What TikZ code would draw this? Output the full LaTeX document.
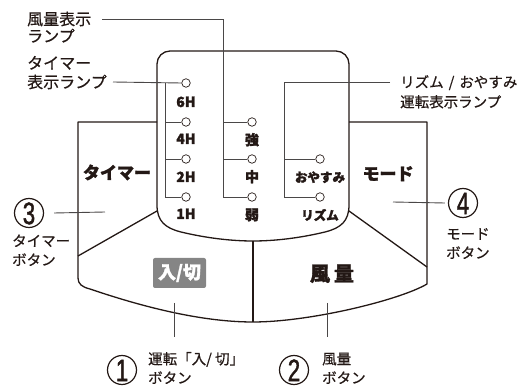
\documentclass[tikz,border=0pt]{standalone}
\usepackage{fontspec}
\setmainfont{Noto Sans CJK JP}[FakeBold=0.6,BoldFeatures={FakeBold=1.6}]
\newfontfamily\digitfont{Liberation Sans}[FakeBold=1.6]
\definecolor{ink}{HTML}{231815}
\definecolor{lead}{HTML}{4A4747}
\definecolor{badge}{HTML}{858585}
\begin{document}
\begin{tikzpicture}[x=1pt,y=-1pt,
  outline/.style={draw=ink,line width=1.3pt,line join=round},
  leader/.style={draw=lead,line width=0.9pt},
  lamp/.style={circle,draw=ink,line width=0.7pt,minimum size=8.5pt,inner sep=0pt},
  note/.style={anchor=base west,inner sep=0pt,text=ink,font=\fontsize{16}{18}\selectfont},
  snote/.style={anchor=base west,inner sep=0pt,text=ink,font=\fontsize{14.5}{17}\selectfont},
  plab/.style={anchor=base,inner sep=0pt,text=ink,font=\fontsize{14}{16}\selectfont\bfseries},
  blab/.style={anchor=base,inner sep=0pt,text=ink,font=\fontsize{17}{20}\selectfont\bfseries},
  num/.style={circle,draw=ink,line width=1.2pt,minimum size=29pt,inner sep=0pt},
  digit/.style={anchor=base,inner sep=0pt,text=ink,font=\digitfont\fontsize{31}{31}\selectfont}
]
\useasboundingbox (0,0) rectangle (531,387);

% ---------- buttons and panel ----------
\draw[outline] (157,122) -- (78,122) -- (78,278)
  .. controls (78,284) and (82,287) .. (90,289)
  .. controls (140,306) and (200,322) .. (253,322);
\draw[outline] (349,122) -- (427,122) -- (427,284)
  .. controls (400,300) and (310,322) .. (253,322);
\draw[outline] (78,256) -- (157,211);
\draw[outline] (349,211) -- (427,267);
\draw[outline] (253,241) -- (253,322);
\draw[outline] (157,205) [rounded corners=13pt] -- (157,51) -- (349,51) [sharp corners] -- (349,205)
  .. controls (349,221) and (341,228) .. (325,232)
  .. controls (300,238) and (275,241) .. (253,241)
  .. controls (231,241) and (206,238) .. (181,232)
  .. controls (165,228) and (157,221) .. (157,205);

% ---------- lamps ----------
\node[lamp] (t6) at (186,83) {};
\node[lamp] (t4) at (186,122) {};
\node[lamp] (t2) at (186,159) {};
\node[lamp] (t1) at (186,197) {};
\node[lamp] (ws) at (252,122) {};
\node[lamp] (wm) at (252,159) {};
\node[lamp] (ww) at (252,197) {};
\node[lamp] (ro) at (320,159) {};
\node[lamp] (rr) at (320,197) {};

\node[plab] (l6) at (186,107) {6H};
\node[plab] (l4) at (186,144) {4H};
\node[plab] (l2) at (186,182) {2H};
\node[plab] (l1) at (186,219) {1H};
\node[plab] (lws) at (252,145) {強};
\node[plab] (lwm) at (252,182) {中};
\node[plab] (lww) at (252,220) {弱};
\node[plab,font=\fontsize{12.5}{15}\selectfont\bfseries] (lro) at (320,182) {おやすみ};
\node[plab,font=\fontsize{12.5}{15}\selectfont\bfseries] (lrr) at (320,220) {リズム};

% ---------- button labels ----------
\node[blab] (btimer) at (117,179) {タイマー};
\node[blab] (bmode) at (388,180) {モード};
\node[anchor=base,inner sep=0pt,text=ink,font=\fontsize{20}{22}\selectfont\bfseries] (bwind) at (332,281) {風\hspace{4pt}量};
\node[fill=badge,rounded corners=2pt,minimum width=53pt,minimum height=30pt,inner sep=0pt] (badgebox) at (179.5,273) {};
\node[anchor=center,inner sep=0pt,text=white,font=\fontsize{18}{20}\selectfont\bfseries] (bon) at (badgebox.center) {入/切};

% ---------- leader lines ----------
\coordinate (wtop) at (102,19);
\coordinate (wc) at (223,19);
\draw[leader] (wtop) -- (wc) -- (223,197) -- (ww.west);
\draw[leader] (223,122) -- (ws.west);
\draw[leader] (223,159) -- (wm.west);

\coordinate (ttop) at (113,82);
\draw[leader] (ttop) -- (t6.west);
\draw[leader] (165,83) -- (165,197) -- (t1.west);
\draw[leader] (165,122) -- (t4.west);
\draw[leader] (165,159) -- (t2.west);

\coordinate (rtop) at (390,82);
\draw[leader] (rtop) -- (284,82) -- (284,197) -- (rr.west);
\draw[leader] (284,159) -- (ro.west);

% ---------- callouts ----------
\node[num] (n3) at (29,213) {};
\node[num] (n4) at (463,203) {};
\node[num] (n1) at (122,370) {};
\node[num] (n2) at (294,370) {};
\node[digit] (d3) at ([yshift=-11.1pt]n3.center) {\scalebox{0.72}[1]{3}};
\node[digit] (d4) at ([yshift=-11.1pt]n4.center) {\scalebox{0.72}[1]{4}};
\node[digit] (d1) at ([yshift=-11.1pt]n1.center) {\scalebox{0.72}[1]{1}};
\node[digit] (d2) at ([yshift=-11.1pt]n2.center) {\scalebox{0.72}[1]{2}};

\coordinate (c3) at (105,212);
\draw[leader] (n3.east) ++(10,0) coordinate (c3s) -- (c3);
\coordinate (c4) at (393,202);
\draw[leader] (n4.west) ++(-3,0) coordinate (c4s) -- (c4);
\coordinate (c1a) at (174,303);
\coordinate (c1b) at (174,337);
\draw[leader] (c1a) -- (c1b);
\coordinate (c2a) at (327,303);
\coordinate (c2b) at (327,337);
\draw[leader] (c2a) -- (c2b);

% ---------- texts ----------
\node[note] (t_w1) at (27,25) {風量表示};
\node[note] (t_w2) at (27,42) {ランプ};
\node[note] (t_t1) at (27,69) {タイマー};
\node[note] (t_t2) at (27,88) {表示ランプ};
\node[snote] (t_r1) at (400,87.5) {リズム\hspace{5pt}/\hspace{5pt}おやすみ};
\node[snote] (t_r2) at (400,107.3) {運転表示ランプ};
\node[snote] (t_31) at (12,246.3) {タイマー};
\node[snote] (t_32) at (12,265.3) {ボタン};
\node[snote] (t_41) at (446,239.3) {モード};
\node[snote] (t_42) at (446,258.3) {ボタン};
\node[snote] (t_11) at (148,364.3) {運転「入/ 切」};
\node[snote] (t_12) at (148,383.3) {ボタン};
\node[snote] (t_21) at (322,364.3) {風量};
\node[snote] (t_22) at (322,383.3) {ボタン};
\end{tikzpicture}
\end{document}
